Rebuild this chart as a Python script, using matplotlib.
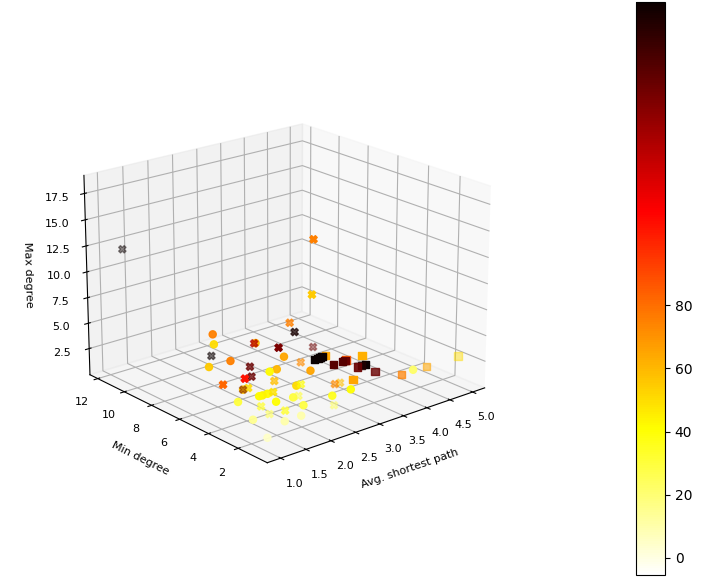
import numpy as np
import matplotlib
matplotlib.use("Agg")
import matplotlib.pyplot as plt
from matplotlib import cm
from matplotlib.colors import Normalize

# avg shortest path, min degree, max degree, colour value, opacity per group
circ_path = [2.25, 1.99, 1.60, 2.02, 2.79, 2.36, 2.21, 2.73, 1.06, 1.45, 1.51, 1.61, 1.51, 2.16, 1.82, 1.74, 1.06, 1.39, 1.72, 1.05, 2.60, 2.99, 4.29, 2.82, 1.16]
circ_min = [8.95, 7.96, 6.95, 6.90, 5.78, 4.85, 4.84, 3.79, 3.09, 3.00, 2.98, 2.98, 2.08, 2.88, 1.98, 1.05, 2.10, 1.12, 1.13, 1.12, 1.93, 1.95, 1.87, 7.86, 3.09]
circ_max = [4, 4, 3, 3, 3, 3, 3, 3, 3, 3, 3, 3, 3, 3, 3, 3, 2, 2, 2, 1, 2, 2, 2, 3, 4]
circ_val = [75, 50, 55, 75, 65, 60, 42, 65, 30, 42, 44, 42, 40, 50, 30, 28, 15, 10, 10, 5, 35, 40, 22, 60, 55]

cross_path = [3.54, 3.33, 2.51, 2.69, 3.42, 1.65, 2.84, 1.83, 1.59, 1.46, 1.05, 1.16, 1.26, 2.02, 1.72, 2.25, 1.92, 2.94, 3.04, 1.22, 1.66, 1.39, 2.37, 0.94, 2.23, 2.20]
cross_min = [7.85, 6.82, 6.91, 5.82, 5.84, 6.95, 4.80, 4.90, 3.98, 3.99, 4.06, 3.09, 3.09, 3.89, 2.97, 2.87, 1.96, 2.84, 2.81, 2.10, 1.98, 2.12, 1.09, 10.65, 2.02, 2.01]
cross_max = [4, 4, 4, 4, 3, 4, 3, 4, 4, 4, 4, 4, 4, 3, 3, 3, 3, 2, 2, 3, 2, 2, 2, 13, 17, 12]
cross_val = [75, 172, 130, 145, 150, 176, 72, 150, 150, 105, 82, 150, 50, 58, 48, 40, 30, 72, 58, 30, 30, 18, 22, 176, 75, 55]
cross_alpha = [0.75, 0.75, 0.7, 1, 0.45, 0.55, 0.55, 0.75, 0.75, 1, 1, 0.4, 0.8, 0.7, 0.8, 0.6, 0.5, 0.6, 0.5, 0.7, 0.8, 0.7, 0.5, 0.45, 1, 1]

sq_path = [3.62, 3.38, 3.45, 3.50, 3.54, 3.47, 3.75, 3.67, 3.73, 4.08, 3.69, 3.79, 3.85, 3.78, 3.29, 4.02, 4.55, 5.25]
sq_min = [5.61, 5.59, 5.59, 5.61, 5.62, 4.60, 4.64, 4.61, 4.64, 4.59, 3.68, 3.72, 3.66, 2.82, 2.74, 1.82, 1.79, 1.79]
sq_max = [2, 2, 2, 2, 2, 2, 2, 2, 2, 2, 2, 2, 2, 2, 2, 2, 2, 2]
sq_val = [65, 176, 176, 176, 176, 155, 85, 155, 150, 62, 150, 170, 176, 150, 65, 75, 65, 50]
sq_alpha = [1, 1, 1, 1, 1, 1, 1, 1, 1, 1, 0.9, 0.85, 1, 0.8, 1, 0.7, 0.55, 0.45]

x_ticks = [1.0, 1.5, 2.0, 2.5, 3.0, 3.5, 4.0, 4.5, 5.0]
y_ticks = [2, 4, 6, 8, 10, 12]
z_ticks = [2.5, 5, 7.5, 10, 12.5, 15, 17.5]
cbar_ticks = [0, 20, 40, 60, 80]

cmap = plt.get_cmap("hot_r")
norm = Normalize(vmin=-5.4, vmax=176)


def colours(val, alpha):
    rgba = cmap(norm(np.array(val)))
    rgba[:, 3] = alpha
    return rgba


fig = plt.figure(figsize=(7.08, 5.83), dpi=100)
ax = fig.add_axes([59 / 708, 73.5 / 583, 442 / 708, 442 / 583], projection="3d")
ax.view_init(elev=20, azim=-130)

kw = dict(linewidths=1, depthshade=False)
ax.scatter(circ_path, circ_min, circ_max, s=26, c=colours(circ_val, 0.95), marker="o", **kw)
ax.scatter(cross_path, cross_min, cross_max, s=28, c=colours(cross_val, cross_alpha), marker="X", **kw)
ax.scatter(sq_path, sq_min, sq_max, s=28, c=colours(sq_val, sq_alpha), marker="s", **kw)

ax.set_xlim(0.74, 5.27)
ax.set_ylim(0.1, 12.6)
ax.set_zlim(-0.1, 19.2)
ax.set_xticks(x_ticks)
ax.set_yticks(y_ticks)
ax.set_zticks(z_ticks)
ax.tick_params(labelsize=8)
ax.set_xlabel("Avg. shortest path", fontsize=8)
ax.set_ylabel("Min degree", fontsize=8)
ax.set_zlabel("Max degree", fontsize=8)

cax = fig.add_axes([636 / 708, 8 / 583, 29 / 708, 573 / 583])
fig.colorbar(cm.ScalarMappable(norm=norm, cmap=cmap), cax=cax, ticks=cbar_ticks)

fig.savefig("out.png", dpi=100)
